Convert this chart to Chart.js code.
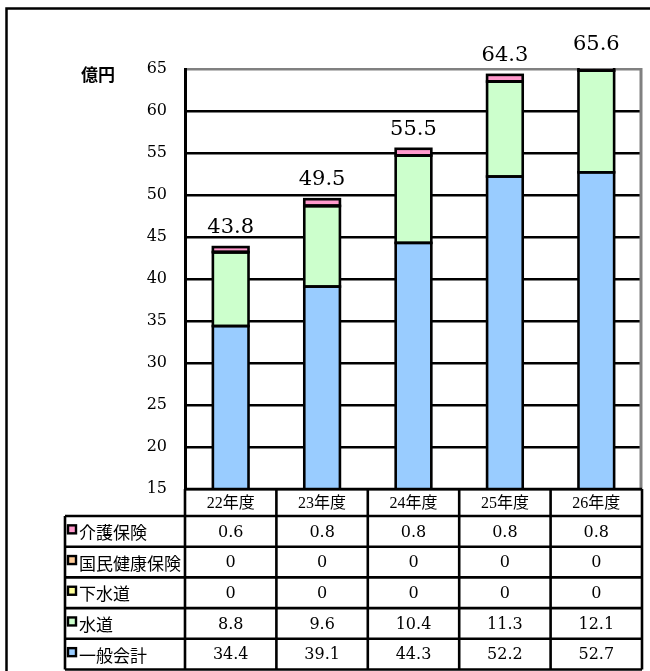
<!DOCTYPE html>
<html><head><meta charset="utf-8">
<script src="https://cdn.jsdelivr.net/npm/chart.js@4/dist/chart.umd.min.js"></script>
<style>html,body{margin:0;padding:0;background:#fff}#wrap{width:650px;height:671px;position:relative}</style>
</head><body><div id="wrap"><canvas id="c" width="650" height="671"></canvas></div>
<script>
// ---- data ----
const categories = ['22年度','23年度','24年度','25年度','26年度'];
const ippanKaikei = [34.4, 39.1, 44.3, 52.2, 52.7];   // 一般会計
const suido = [8.8, 9.6, 10.4, 11.3, 12.1];           // 水道
const gesuido = [0, 0, 0, 0, 0];                      // 下水道
const kokuminKenkoHoken = [0, 0, 0, 0, 0];            // 国民健康保険
const kaigoHoken = [0.6, 0.8, 0.8, 0.8, 0.8];         // 介護保険
const seriesNames = ['一般会計','水道','下水道','国民健康保険','介護保険'];
const yMin = 15, yMax = 65, yStep = 5;
const unitLabel = '億円';

// ---- styles ----
const colors = ['#99CCFF','#CCFFCC','#FFFF99','#FFCC99','#FF99CC'];
const seriesValues = [ippanKaikei, suido, gesuido, kokuminKenkoHoken, kaigoHoken];

const datasets = seriesValues.map((vals, i) => ({
  label: seriesNames[i],
  data: vals,
  backgroundColor: colors[i],
  borderWidth: 0,
  barPercentage: 0.39,
  categoryPercentage: 1.0
}));

const fmt = v => String(v);

// stroke bar outlines centred on their edges (Excel style)
const outlinePlugin = {
  id: 'outline',
  afterDatasetsDraw(chart) {
    const ctx = chart.ctx, ca = chart.chartArea;
    ctx.save();
    ctx.beginPath();
    ctx.rect(ca.left, ca.top - 1, ca.right - ca.left, ca.bottom - ca.top + 1);
    ctx.clip();
    ctx.strokeStyle = '#000';
    ctx.lineWidth = 2.6;
    chart.data.datasets.forEach((ds, di) => {
      const meta = chart.getDatasetMeta(di);
      meta.data.forEach(el => {
        const p = el.getProps(['x', 'y', 'base', 'width'], true);
        const top = Math.min(p.y, p.base), h = Math.abs(p.base - p.y);
        ctx.strokeRect(p.x - p.width / 2, top, p.width, h);
      });
    });
    ctx.restore();
  }
};

const tablePlugin = {
  id: 'tbl',
  beforeDraw(chart) {
    const ctx = chart.ctx;
    ctx.save();
    ctx.fillStyle = '#fff';
    ctx.fillRect(0, 0, chart.width, chart.height);
    ctx.restore();
  },
  afterDraw(chart) {
    const ctx = chart.ctx, xs = chart.scales.x, ys = chart.scales.y, ca = chart.chartArea;
    const n = categories.length;
    const colW = xs.getPixelForValue(1) - xs.getPixelForValue(0);
    const left = xs.getPixelForValue(0) - colW / 2;
    const right = xs.getPixelForValue(n - 1) + colW / 2;
    ctx.save();

    // plot right border (gray)
    ctx.strokeStyle = '#808080';
    ctx.lineWidth = 3;
    ctx.beginPath();
    ctx.moveTo(ca.right - 1, ca.top - 1);
    ctx.lineTo(ca.right - 1, ca.bottom);
    ctx.stroke();

    // totals above bars
    ctx.fillStyle = '#000';
    ctx.font = "21px 'DejaVu Serif'";
    ctx.textAlign = 'center';
    ctx.textBaseline = 'alphabetic';
    for (let i = 0; i < n; i++) {
      const tot = seriesValues.reduce((s, arr) => s + arr[i], 0);
      const yp = ys.getPixelForValue(tot);
      ctx.fillText(tot.toFixed(1), xs.getPixelForValue(i), yp - 14);
    }

    // unit label
    ctx.textBaseline = 'middle';
    ctx.font = "bold 17px 'Noto Sans CJK JP'";
    ctx.textAlign = 'left';
    ctx.fillText(unitLabel, 81, ys.getPixelForValue(yMax) + 6);

    // data table
    const catTop = ca.bottom;
    const catH = 27;
    const rowH = 30.7;
    const tblTop = catTop + catH;
    const labL = 65;
    const rows = seriesNames.length;

    // category row
    ctx.font = "16px 'Liberation Serif','Noto Sans CJK JP'";
    ctx.textAlign = 'center';
    for (let i = 0; i < n; i++) {
      ctx.fillText(categories[i], xs.getPixelForValue(i), catTop + catH / 2 + 1);
    }
    // rows (top = last series)
    for (let r = 0; r < rows; r++) {
      const si = rows - 1 - r;
      const cy = tblTop + rowH * r + rowH / 2;
      // key
      ctx.fillStyle = colors[si];
      ctx.fillRect(68, cy - 6, 8, 8);
      ctx.strokeStyle = '#000';
      ctx.lineWidth = 2.4;
      ctx.strokeRect(68, cy - 6, 8, 8);
      ctx.fillStyle = '#000';
      ctx.font = "17px 'Noto Sans CJK JP'";
      ctx.textAlign = 'left';
      ctx.fillText(seriesNames[si], 79, cy + 1);
      ctx.font = "16px 'DejaVu Serif'";
      ctx.textAlign = 'center';
      for (let i = 0; i < n; i++) {
        ctx.fillText(fmt(seriesValues[si][i]), xs.getPixelForValue(i), cy + 1);
      }
    }
    // lines
    ctx.strokeStyle = '#000';
    ctx.lineWidth = 2.6;
    ctx.beginPath();
    for (let i = 0; i <= n; i++) {
      const xp = left + colW * i;
      ctx.moveTo(xp, catTop);
      ctx.lineTo(xp, tblTop + rowH * rows);
    }
    ctx.moveTo(labL, tblTop);
    ctx.lineTo(labL, tblTop + rowH * rows);
    ctx.moveTo(left, catTop);
    ctx.lineTo(right, catTop);
    for (let r = 0; r <= rows; r++) {
      const yp = tblTop + rowH * r;
      ctx.moveTo(labL, yp);
      ctx.lineTo(right, yp);
    }
    ctx.stroke();

    // outer frame
    ctx.lineWidth = 2.5;
    ctx.strokeRect(6.5, 8.5, 700, 700);
    ctx.restore();
  }
};

function make() {
  new Chart(document.getElementById('c'), {
    type: 'bar',
    data: { labels: categories, datasets },
    options: {
      responsive: false,
      animation: false,
      events: [],
      layout: { padding: { left: 0, right: 8, top: 69, bottom: 182 } },
      plugins: { legend: { display: false }, tooltip: { enabled: false }, title: { display: false } },
      scales: {
        x: { stacked: true, display: false },
        y: {
          stacked: true,
          min: yMin, max: yMax,
          ticks: { stepSize: yStep, color: '#000', padding: 18, font: { family: 'DejaVu Serif', size: 16 } },
          grid: {
            drawTicks: false,
            lineWidth: 2.6,
            color: c => (c.tick && c.tick.value === yMax) ? '#808080' : '#000'
          },
          border: { display: true, color: '#000', width: 3 },
          afterFit(s) { s.width = 185; }
        }
      }
    },
    plugins: [outlinePlugin, tablePlugin]
  });
}
if (document.fonts && document.fonts.load) {
  Promise.all([
    document.fonts.load("16px 'Noto Sans CJK JP'"),
    document.fonts.load("bold 16px 'Noto Sans CJK JP'"),
    document.fonts.load("16px 'DejaVu Serif'"),
    document.fonts.load("16px 'Liberation Serif'")
  ]).then(make, make);
} else make();
</script>
</body></html>
